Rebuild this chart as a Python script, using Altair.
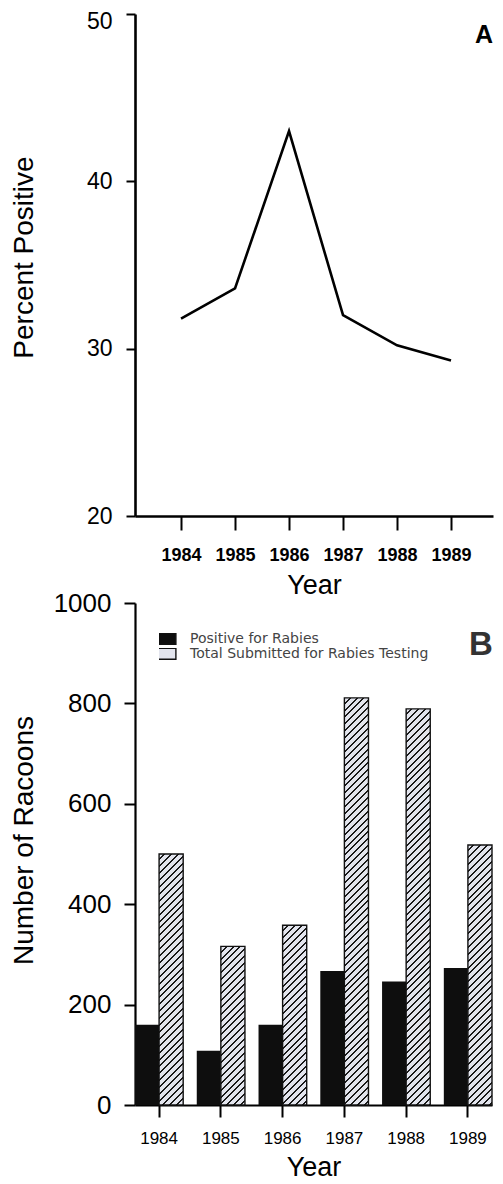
import altair as alt
import pandas as pd

# ---------------- data ----------------
years = ["1984", "1985", "1986", "1987", "1988", "1989"]
percent_positive = [31.8, 33.6, 43.0, 32.0, 30.2, 29.3]
positive_for_rabies = [160, 108, 160, 267, 246, 273]
total_submitted = [500, 316, 358, 811, 789, 518]
series_names = ["Positive for Rabies", "Total Submitted for Rabies Testing"]
panel_labels = ["A", "B"]
pct_ticks = [20, 30, 40, 50]
count_ticks = [0, 200, 400, 600, 800, 1000]

FONT = "Liberation Sans"
BLACK = "#0e0e0e"
HATCH_BG = "#e3e5ee"
HATCH_FG = "#1a1a1a"

# ---------------- layout constants ----------------
TOP_W, TOP_H = 358, 502
BOT_W, BOT_H = 357, 502
PAD_INNER = 0.22

# ---------------- top panel (A) ----------------
top_df = pd.DataFrame({"Year": years, "Pct": percent_positive})

line = alt.Chart(top_df).mark_line(color="black", strokeWidth=2.6).encode(
    x=alt.X(
        "Year:O",
        scale=alt.Scale(type="point", padding=0.815, align=0.523),
        axis=alt.Axis(
            title="Year", labelAngle=0, labelFontSize=18, labelFontWeight="bold",
            labelPadding=16, tickSize=14, tickWidth=2, domainWidth=2.6,
            titleFontSize=27, titlePadding=8,
        ),
    ),
    y=alt.Y(
        "Pct:Q",
        scale=alt.Scale(domain=[20, 50], nice=False, zero=False),
        axis=alt.Axis(
            values=pct_ticks, title="Percent Positive", labelFontSize=23,
            labelPadding=14, tickSize=9, tickWidth=2, domainWidth=2.6,
            labelOffset={"condition": {"test": "datum.value == 50", "value": 7}, "value": 0},
            titleFontSize=28, titleX=-103, titleY=243,
            titleBaseline="alphabetic", titleAngle=-90,
        ),
    ),
)

label_a = alt.Chart(pd.DataFrame({"label": [panel_labels[0]]})).mark_text(
    font=FONT, fontSize=25, fontWeight="bold", align="center",
    baseline="alphabetic", color="black",
).encode(text="label:N", x=alt.value(349), y=alt.value(29))

top = alt.layer(line, label_a).properties(width=TOP_W, height=TOP_H)

# ---------------- bottom panel (B) ----------------
bar_df = pd.DataFrame({
    "Year": years * 2,
    "Series": [series_names[0]] * len(years) + [series_names[1]] * len(years),
    "Count": positive_for_rabies + total_submitted,
})

x_enc = alt.X(
    "Year:N",
    scale=alt.Scale(paddingInner=PAD_INNER, paddingOuter=0),
    axis=alt.Axis(
        title="Year", labelAngle=0, labelFontSize=17, labelPadding=13,
        tickSize=12, tickWidth=2, domainWidth=2.2, titleFontSize=27,
        titlePadding=8,
    ),
)
xoff_enc = alt.XOffset(
    "Series:N", scale=alt.Scale(domain=series_names, paddingInner=0, paddingOuter=0)
)
y_enc = alt.Y(
    "Count:Q",
    scale=alt.Scale(domain=[0, 1000], nice=False),
    axis=alt.Axis(
        values=count_ticks, format="d", title="Number of Racoons", labelFontSize=26,
        labelPadding=13, tickSize=11, tickWidth=2, domainWidth=2.2,
        titleFontSize=28, titleX=-103, titleY=237,
        titleBaseline="alphabetic", titleAngle=-90,
    ),
)

bars = alt.Chart(bar_df).mark_bar().encode(
    x=x_enc,
    xOffset=xoff_enc,
    y=y_enc,
    color=alt.Color(
        "Series:N",
        scale=alt.Scale(domain=series_names, range=[BLACK, HATCH_BG]),
        legend=alt.Legend(
            title=None, orient="none", legendX=24, legendY=619,
            symbolType="M-1.8,-1H1.8V1H-1.8Z", symbolSize=121,
            symbolStrokeColor="#111", symbolStrokeWidth=1.4, symbolOpacity=1,
            labelFont="DejaVu Sans", labelFontSize=14, labelColor="#444",
            labelOffset=17, rowPadding=0, clipHeight=11.5, labelLimit=400,
        ),
    ),
)

# hatch fill (diagonal "/" stripes) built as a hard-stop gradient per bar
step = BOT_W / (len(years) - PAD_INNER)
bar_w = step * (1 - PAD_INNER) / 2


def hatch_fill(w, h, period=6.9, thick=2.0):
    L = w + h
    s = L / (w * w + h * h)
    stops = []
    pos = 0.0
    while pos < L:
        a = pos / L
        b = min((pos + period - thick) / L, 1.0)
        c = min((pos + period) / L, 1.0)
        stops += [(HATCH_BG, a), (HATCH_BG, b), (HATCH_FG, b), (HATCH_FG, c)]
        pos += period
    return alt.LinearGradient(
        gradient="linear",
        stops=[alt.GradientStop(color=col, offset=round(o, 5)) for col, o in stops],
        x1=0, y1=0, x2=s * w, y2=s * h,
    )


hatch_layers = []
for yr, val in zip(years, total_submitted):
    h = val / 1000 * BOT_H
    hatch_layers.append(
        alt.Chart(bar_df)
        .transform_filter((alt.datum.Year == yr) & (alt.datum.Series == series_names[1]))
        .mark_bar(fill=hatch_fill(bar_w, h), stroke="#111", strokeWidth=1.4)
        .encode(x=x_enc, xOffset=xoff_enc, y=y_enc)
    )

label_b = alt.Chart(pd.DataFrame({"label": [panel_labels[1]]})).mark_text(
    font=FONT, fontSize=33, fontWeight="bold", align="center",
    baseline="alphabetic", color="#333",
).encode(text="label:N", x=alt.value(346), y=alt.value(52))

bottom = alt.layer(bars, *hatch_layers, label_b).properties(width=BOT_W, height=BOT_H)

chart = (
    alt.vconcat(top, bottom, spacing=87, bounds="flush")
    .properties(padding={"left": 2, "top": 2, "right": 0, "bottom": 0})
    .configure_view(stroke=None)
    .configure_axis(
        labelFont=FONT, titleFont=FONT, titleFontWeight="normal",
        labelColor="black", titleColor="black", domainColor="black",
        tickColor="black", grid=False,
    )
)

chart.save("out.html", embed_options={"renderer": "svg", "actions": False})
